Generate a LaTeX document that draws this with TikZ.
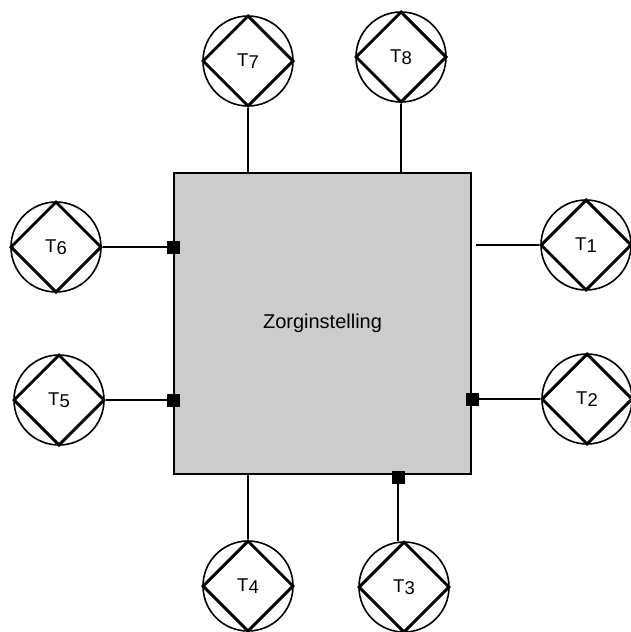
\documentclass[tikz,border=0pt]{standalone}
\usepackage{fontspec}
\setmainfont{Liberation Sans}
\usetikzlibrary{shapes.geometric}
\definecolor{boxgray}{RGB}{204,204,204}
\newcommand\tlab[1]{T\raisebox{-2.5pt}{#1}}
\begin{document}
\begin{tikzpicture}[x=1pt,y=-1pt,
  term/.style={circle,draw,line width=1.6pt,minimum size=90pt,inner sep=0pt,
    font=\fontsize{18.5}{20}\selectfont},
  dia/.style={diamond,draw,line width=3pt,minimum width=91pt,minimum height=91pt,inner sep=0pt},
  port/.style={fill=black,minimum size=13pt,inner sep=0pt},
  conn/.style={line width=2pt}]
\useasboundingbox (0,0) rectangle (631,632);
\node[draw,line width=2pt,fill=boxgray,minimum width=297pt,minimum height=301pt,inner sep=0pt,
  font=\fontsize{20}{22}\selectfont] (zorg) at (322.5,323.5) {Zorginstelling};
% terminals
\foreach \n/\x/\y in {1/586/245,2/587/399,3/404/587,4/248/586,5/59/400,6/56/247,7/248/61,8/401/57}{
  \node[dia] (d\n) at (\x,\y) {};
  \node[term] (t\n) at (\x,\y) {\tlab{\n}};
}
% ports
\node[port] (p2) at (zorg.east |- d2.west) {};
\node[port] (p3) at (398,477) {};
\node[port] (p5) at (zorg.west |- d5.east) {};
\node[port] (p6) at (zorg.west |- d6.east) {};
\coordinate (c1) at (476,245);
% connectors
\draw[conn] (d7.south) -- (d7.south |- zorg.north);
\draw[conn] (d8.south) -- (d8.south |- zorg.north);
\draw[conn] (c1) -- (d1.west);
\draw[conn] (p2.center) -- (d2.west);
\draw[conn] (p3.center) -- (p3.center |- t3.north);
\draw[conn] (d4.north) -- (d4.north |- zorg.south);
\draw[conn] (p5.center) -- (d5.east);
\draw[conn] (p6.center) -- (d6.east);
\node[port] at (p2) {};
\node[port] at (p3) {};
\node[port] at (p5) {};
\node[port] at (p6) {};
\end{tikzpicture}
\end{document}
